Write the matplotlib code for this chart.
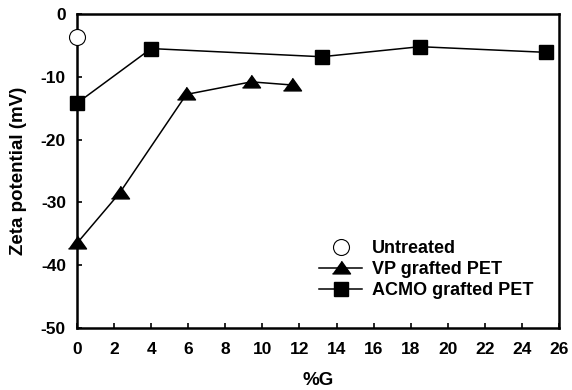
import matplotlib
matplotlib.use('Agg')
import matplotlib.pyplot as plt

# данные
untreated_x = [0]
untreated_y = [-3.6]

vp_x = [0, 2.3, 5.9, 9.4, 11.6]
vp_y = [-36.5, -28.5, -12.8, -10.8, -11.3]

acmo_x = [0, 4.0, 13.2, 18.5, 25.3]
acmo_y = [-14.2, -5.5, -6.8, -5.2, -6.1]

x_ticks = list(range(0, 27, 2))
y_ticks = [0, -10, -20, -30, -40, -50]

plt.rcParams['font.family'] = ['Liberation Sans', 'DejaVu Sans']
plt.rcParams['font.weight'] = 'bold'
plt.rcParams['axes.unicode_minus'] = False

fig = plt.figure(figsize=(5.72, 3.9), dpi=100)
ax = fig.add_axes([0.1346, 0.159, 0.8427, 0.805])

tri = [(-1, -0.6), (1, -0.6), (0, 0.8)]

ax.plot(untreated_x, untreated_y, 'o', ms=11.5, mfc='white', mec='black', mew=0.8,
        label='Untreated', clip_on=False, zorder=5)
ax.plot(vp_x, vp_y, '-', color='black', lw=1.1, marker=tri, ms=13,
        label='VP grafted PET', clip_on=False, zorder=4)
ax.plot(acmo_x, acmo_y, '-', color='black', lw=1.1, marker='s', ms=10,
        label='ACMO grafted PET', clip_on=False, zorder=4)

ax.set_xlim(0, 26)
ax.set_ylim(-50, 0)
ax.set_xticks(x_ticks)
ax.set_yticks(y_ticks)

for s in ax.spines.values():
    s.set_linewidth(1.8)

ax.tick_params(direction='in', length=3.5, width=1.2, labelsize=12.5, top=False, right=False)
ax.tick_params(axis='x', pad=10)
ax.tick_params(axis='y', pad=8)

ax.set_xlabel('%G', fontsize=13.5, fontweight='bold', labelpad=11)
ax.set_ylabel('Zeta potential (mV)', fontsize=13.5, fontweight='bold', labelpad=10)

ax.legend(loc='upper left', bbox_to_anchor=(0.502, 0.28), frameon=False,
          fontsize=13, borderpad=0, borderaxespad=0, labelspacing=0.22,
          handlelength=2.4, handletextpad=0.55)

fig.savefig('out.png', dpi=100)
